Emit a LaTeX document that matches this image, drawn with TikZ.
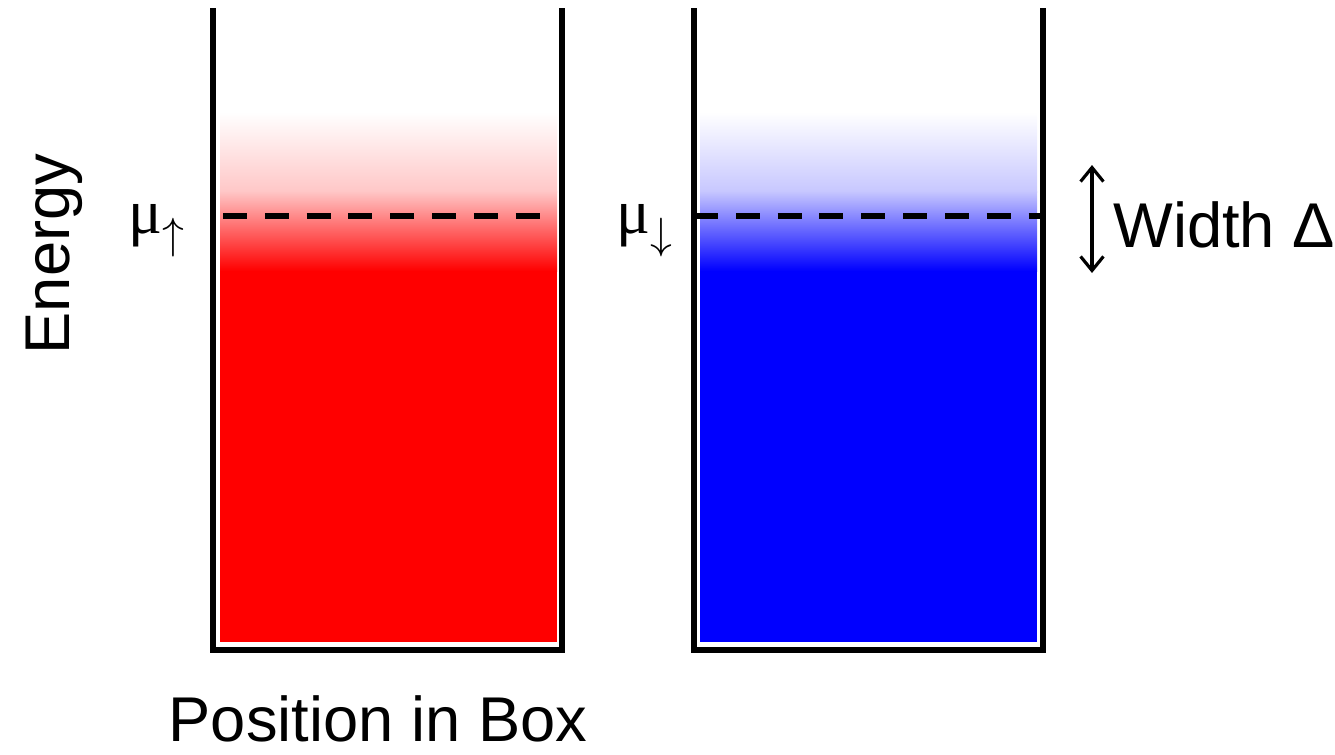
\documentclass[tikz,border=0pt]{standalone}
\usepackage{fontspec}
\setmainfont{Liberation Sans}
\newfontfamily\mufont{Liberation Serif}
\usetikzlibrary{arrows.meta}
\tikzset{
  wall/.style={line width=3.4pt, line join=miter},
  fermi/.style={line width=3.4pt, dash pattern=on 13.6pt off 10.2pt},
  big/.style={font=\fontsize{36}{40}\selectfont, inner sep=0pt}
}
\begin{document}
\begin{tikzpicture}[x=0.02cm, y=-0.02cm]
    \useasboundingbox (0,0) rectangle (1335,754);
    % Spin up box (red)
    \fill[red] (220,270) rectangle (557,642);
    \shade[top color=white, bottom color=red!22] (220,112) rectangle (557,192);
    \shade[top color=red!22, bottom color=red] (220,191) rectangle (557,271);
    \draw[wall] (213,8) -- (213,650) -- (562,650) -- (562,8);
    \draw[fermi] (223,216) -- (545,216);
    % Spin down box (blue)
    \fill[blue] (700,270) rectangle (1037,642);
    \shade[top color=white, bottom color=blue!22] (700,112) rectangle (1037,192);
    \shade[top color=blue!22, bottom color=blue] (700,191) rectangle (1037,271);
    \draw[wall] (694,8) -- (694,650) -- (1043,650) -- (1043,8);
    \draw[fermi] (694,216) -- (1043,216);
    % Chemical potentials
    \node[big, anchor=base west] (muup) at (128,233) {{\mufont μ}$_{\uparrow}$};
    \node[big, anchor=base west] (mudown) at (616,233) {{\mufont μ}$_{\downarrow}$};
    % Width arrow
    \coordinate (wtop) at (1092,165);
    \coordinate (wbot) at (1092,273);
    \draw[line width=1.8pt, {Straight Barb[length=8pt,width=13pt]}-{Straight Barb[length=8pt,width=13pt]}] (wtop) -- (wbot);
    \node[big, anchor=base west] (width) at (1113,247) {Width Δ};
    % Axis labels
    \node[big, anchor=base, rotate=90] (energy) at (69,254) {Energy};
    \node[big, anchor=base] (position) at (378,741) {Position in Box};
\end{tikzpicture}
\end{document}
